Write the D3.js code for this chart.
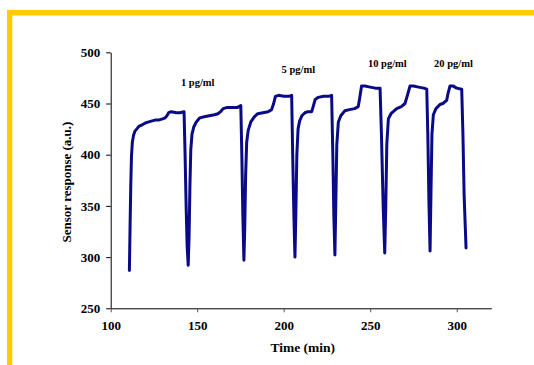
<!DOCTYPE html>
<html><head><meta charset="utf-8">
<script src="https://cdn.jsdelivr.net/npm/d3@7"></script>
<style>body{margin:0;background:#fff}svg{display:block}</style>
</head><body><svg id="c" width="534" height="365"></svg>
<script>
const timeMin = [110.8,111.2,111.6,112.0,112.5,113.2,114,115,116.5,118,120,122,124,126,128,130,131.5,132.5,133.5,135,138,140,142.4,
143,143.6,144.2,144.8,145.3,145.8,146.3,147,148,149.5,151.5,154,157,160,162,163.5,165,167,170,173,175.2,
175.8,176.4,177,177.5,178,178.6,179.5,181,183,185,188,191,193,194.2,195.2,197,200,203,204.6,
205.2,205.9,206.5,207,207.6,208.3,209.2,210.5,212.3,214,216.2,217.2,218.2,220,223,226,227.7,
228.4,229,229.6,230.1,230.7,231.6,233,235.4,238,241,243.1,244,245,247,250,253,255.7,
256.5,257.5,258.4,259,259.6,260.5,262,265.3,268,270.1,271.5,273,275,278,281,282.7,
283.3,284,284.6,285.1,285.7,286.5,288,290.3,292,294.2,295,296.1,298,300,302.9,303.6,304.3,305.4];
const response = [287,330,370,398,412,419,423,425,428,429,431,432,433,434,434,435,436,438,441,442,441,441,442,
400,350,310,292,320,370,405,420,427,432,436,437,438,439,440,442,445,446,446,446,448,
400,340,297,330,380,412,424,432,437,440,441,442,444,450,457,458,457,457,458,
400,340,300,340,400,425,433,438,441,442,442,448,454,456,457,457,458,
400,340,302,350,410,432,438,443,444,445,447,456,467,467,466,465,465,
420,350,304,350,410,435,440,445,447,450,458,467,467,466,465,464,
420,350,306,360,420,439,445,449,450,453,460,467,467,465,464,420,360,309];
const xTicks = [100,150,200,250,300];
const yTicks = [250,300,350,400,450,500];
const labelText = ["1 pg/ml","5 pg/ml","10 pg/ml","20 pg/ml"];
const labelTime = [140.6,198.8,248.7,286.9];
const labelResp = [467,480,485.6,485.6];

const svg = d3.select("#c");
svg.append("rect").attr("x",7).attr("y",10).attr("width",527).attr("height",5.5).attr("fill","#FFCC00");
svg.append("rect").attr("x",7).attr("y",10).attr("width",5.3).attr("height",355).attr("fill","#FFCC00");

const x = d3.scaleLinear().domain([100,320]).range([110.7,491.3]);
const y = d3.scaleLinear().domain([250,500]).range([308.3,52.3]);
const font = "'Liberation Serif','Times New Roman',serif";

const xa = svg.append("g").attr("transform","translate(0,308.3)")
  .call(d3.axisBottom(x).tickValues(xTicks).tickSize(4).tickSizeOuter(0).tickPadding(8));
const ya = svg.append("g").attr("transform","translate(110.7,0)")
  .call(d3.axisLeft(y).tickValues(yTicks).tickSize(4.5).tickSizeOuter(0).tickPadding(6));
[xa,ya].forEach(g=>{
  g.selectAll("path,line").attr("stroke","#000").attr("stroke-width",1);
  g.selectAll("text").attr("font-family",font).attr("font-weight","bold").attr("font-size","13px").attr("fill","#000");
});
xa.selectAll(".tick line").attr("stroke","#555");

svg.append("text").attr("x",x(211)).attr("y",352).attr("text-anchor","middle")
  .attr("font-family",font).attr("font-weight","bold").attr("font-size","13.5px").text("Time (min)");
svg.append("text").attr("transform","translate(71,182) rotate(-90)").attr("text-anchor","middle")
  .attr("font-family",font).attr("font-weight","bold").attr("font-size","13px").text("Sensor response (a.u.)");

const line = d3.line().x((d,i)=>x(timeMin[i])).y(d=>y(d));
svg.append("path").datum(response).attr("d",line).attr("fill","none")
  .attr("stroke","#0A0A86").attr("stroke-width",3).attr("stroke-linejoin","round").attr("stroke-linecap","round");

labelText.forEach((t,i)=>{
  svg.append("text").attr("x",x(labelTime[i])).attr("y",y(labelResp[i]))
    .attr("font-family",font).attr("font-weight","bold").attr("font-size","10.5px").text(t);
});
</script></body></html>
